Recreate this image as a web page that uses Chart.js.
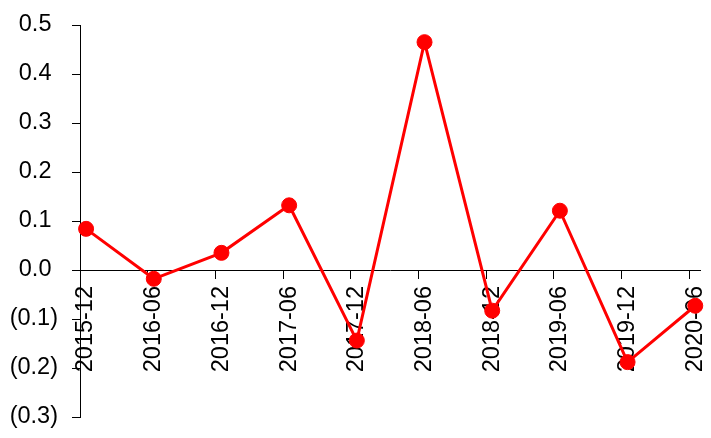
<!DOCTYPE html>
<html>
<head>
<meta charset="utf-8">
<script src="https://cdn.jsdelivr.net/npm/chart.js@4/dist/chart.umd.min.js"></script>
<style>
  html, body { margin: 0; padding: 0; background: #fff; }
  #wrap { width: 711px; height: 438px; }
</style>
</head>
<body>
<div id="wrap"><canvas id="c" width="711" height="438"></canvas></div>
<script>
const categories = ['2015-12','2016-06','2016-12','2017-06','2017-12','2018-06','2018-12','2019-06','2019-12','2020-06'];
const values = [0.084, -0.018, 0.035, 0.132, -0.144, 0.465, -0.083, 0.121, -0.188, -0.073];
const yTicks = [-0.3, -0.2, -0.1, 0.0, 0.1, 0.2, 0.3, 0.4, 0.5];
const pointShift = 0.09; // data sits slightly after the period tick

const fmt = v => v < 0 ? '(' + Math.abs(v).toFixed(1) + ')' : v.toFixed(1) + ' ';
const FONT = { family: '"Liberation Sans", Arial, sans-serif', size: 23.5 };
const zeroPad = s => { s.paddingLeft = 0; s.paddingRight = 0; s.paddingTop = 0; s.paddingBottom = 0; };

new Chart(document.getElementById('c'), {
  type: 'line',
  data: {
    datasets: [{
      data: values.map((v, i) => ({ x: i + pointShift, y: v })),
      borderColor: '#ff0000',
      backgroundColor: '#ff0000',
      borderWidth: 3,
      pointRadius: 7.5,
      pointBorderWidth: 1,
      pointBackgroundColor: '#ff0000',
      pointBorderColor: '#ff0000',
      tension: 0,
      clip: false
    }]
  },
  options: {
    responsive: false,
    animation: false,
    events: [],
    layout: { padding: { top: 25, bottom: 21, right: 11, left: 0 } },
    plugins: { legend: { display: false }, tooltip: { enabled: false } },
    scales: {
      x: {
        type: 'linear',
        position: { y: 0 },
        min: 0,
        max: 9.16,
        z: 1,
        afterBuildTicks: s => { s.ticks = categories.map((_, i) => ({ value: i })); },
        afterFit: s => { zeroPad(s); s.height = 0; },
        ticks: {
          callback: v => categories[v] ?? '',
          minRotation: 90,
          maxRotation: 90,
          autoSkip: false,
          color: '#000',
          font: FONT,
          padding: 8,
          labelOffset: 6
        },
        grid: { display: true, drawOnChartArea: false, drawTicks: true, tickLength: 8, color: '#000', lineWidth: 1 },
        border: { display: true, color: '#000', width: 1 }
      },
      y: {
        type: 'linear',
        position: 'left',
        min: -0.3,
        max: 0.5,
        afterBuildTicks: s => { s.ticks = yTicks.map(v => ({ value: v })); },
        afterFit: s => { zeroPad(s); s.width = 80; },
        ticks: {
          callback: v => fmt(v),
          color: '#000',
          font: FONT,
          padding: 14
        },
        grid: { display: true, drawOnChartArea: false, drawTicks: true, tickLength: 8, color: '#000', lineWidth: 1 },
        border: { display: true, color: '#000', width: 1 }
      }
    }
  }
});
</script>
</body>
</html>
